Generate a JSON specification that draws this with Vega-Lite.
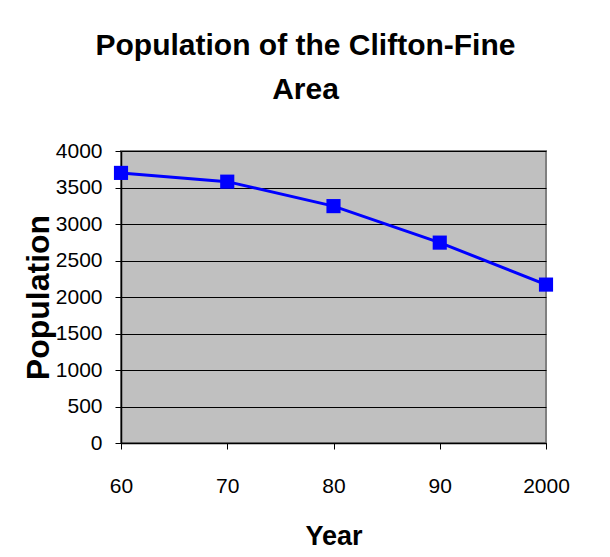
{
  "$schema": "https://vega.github.io/schema/vega-lite/v6.json",
  "autosize": "none",
  "width": 425,
  "height": 292,
  "padding": {"left": 121, "top": 151, "right": 64, "bottom": 114},
  "background": "white",
  "title": {
    "text": ["Population of the Clifton-Fine", "Area"],
    "fontSize": 30,
    "font": "Liberation Sans",
    "fontWeight": "bold",
    "color": "black",
    "lineHeight": 44,
    "anchor": "middle",
    "frame": "group",
    "dx": -28,
    "offset": 35
  },
  "data": {
    "values": [
      {"year": "60", "population": 3700},
      {"year": "70", "population": 3580},
      {"year": "80", "population": 3245},
      {"year": "90", "population": 2745},
      {"year": "2000", "population": 2170}
    ]
  },
  "encoding": {
    "x": {
      "field": "year",
      "type": "ordinal",
      "sort": null,
      "scale": {"type": "point", "padding": 0},
      "axis": {
        "title": "Year",
        "labelAngle": 0,
        "grid": false,
        "labelPadding": 26,
        "titlePadding": 27
      }
    },
    "y": {
      "field": "population",
      "type": "quantitative",
      "scale": {"domain": [0, 4000], "nice": false, "zero": true},
      "axis": {
        "title": "Population",
        "format": "d",
        "values": [0, 500, 1000, 1500, 2000, 2500, 3000, 3500, 4000],
        "grid": true,
        "labelPadding": 13,
        "titlePadding": 0
      }
    }
  },
  "layer": [
    {"mark": {"type": "line", "color": "#0000FF", "strokeWidth": 3}},
    {"mark": {"type": "point", "shape": "square", "filled": true, "size": 200, "color": "#0000FF", "opacity": 1}}
  ],
  "config": {
    "view": {"fill": "#C0C0C0", "stroke": "#808080", "strokeWidth": 2},
    "axis": {
      "domainColor": "black",
      "domainWidth": 1.5,
      "tickColor": "black",
      "tickSize": 6,
      "tickWidth": 1,
      "gridColor": "black",
      "gridWidth": 1,
      "gridOpacity": 1,
      "labelFont": "Liberation Sans",
      "labelFontSize": 21,
      "labelColor": "black",
      "titleFont": "Liberation Sans",
      "titleFontWeight": "bold",
      "titleFontSize": 27,
      "titleColor": "black"
    },
    "axisY": {"titleFontSize": 32}
  }
}
